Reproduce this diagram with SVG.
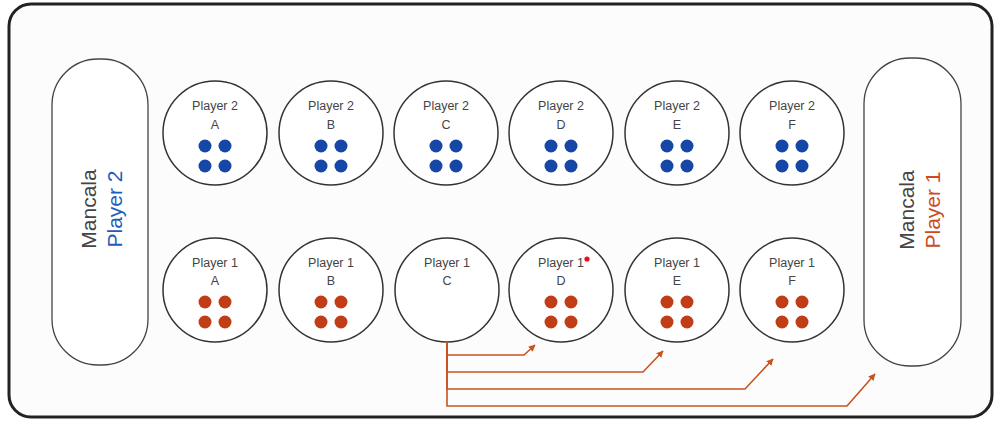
<svg xmlns="http://www.w3.org/2000/svg" width="995" height="423" viewBox="0 0 995 423">
<defs>
<style>
.board{fill:#fcfcfc;stroke:#222;stroke-width:3}
.pit{fill:#fff;stroke:#333;stroke-width:1.5}
.store{fill:#fff;stroke:#444;stroke-width:1.3}
.lbl{font-family:"Liberation Sans","DejaVu Sans",sans-serif;font-size:12.5px;fill:#444;text-anchor:middle}
.big{font-family:"Liberation Sans","DejaVu Sans",sans-serif;font-size:21px;text-anchor:middle}
.b{fill:#1747a6}
.r{fill:#c03d17}
.con{fill:none;stroke:#c8531f;stroke-width:1.6}
</style>
<marker id="ah" viewBox="0 0 10 10" refX="9" refY="5" markerWidth="7" markerHeight="7" orient="auto" markerUnits="userSpaceOnUse">
<path d="M0,0 L10,5 L0,10 z" fill="#c8531f"/>
</marker>
</defs>
<rect x="0" y="0" width="995" height="423" fill="#fff"/>
<rect class="board" x="9" y="4" width="983" height="413" rx="22"/>

<g id="mancala-p2">
<rect class="store" x="52" y="59" width="96" height="306" rx="46"/>
<text class="big" fill="#444" transform="translate(96,209) rotate(-90)">Mancala</text>
<text class="big" fill="#1f5bb8" transform="translate(122,209) rotate(-90)">Player 2</text>
</g>
<g id="mancala-p1">
<rect class="store" x="864" y="58" width="97" height="308" rx="46"/>
<text class="big" fill="#444" transform="translate(914,210) rotate(-90)">Mancala</text>
<text class="big" fill="#cc4a1e" transform="translate(940,210) rotate(-90)">Player 1</text>
</g>

<g id="p2-A"><circle class="pit" cx="215" cy="133" r="52"/><text class="lbl" x="215" y="110">Player 2</text><text class="lbl" x="215" y="129">A</text>
<circle class="b" cx="205" cy="146" r="6.5"/><circle class="b" cx="225" cy="146" r="6.5"/><circle class="b" cx="205" cy="166" r="6.5"/><circle class="b" cx="225" cy="166" r="6.5"/></g>
<g id="p2-B"><circle class="pit" cx="331" cy="133" r="52"/><text class="lbl" x="331" y="110">Player 2</text><text class="lbl" x="331" y="129">B</text>
<circle class="b" cx="321" cy="146" r="6.5"/><circle class="b" cx="341" cy="146" r="6.5"/><circle class="b" cx="321" cy="166" r="6.5"/><circle class="b" cx="341" cy="166" r="6.5"/></g>
<g id="p2-C"><circle class="pit" cx="446" cy="133" r="52"/><text class="lbl" x="446" y="110">Player 2</text><text class="lbl" x="446" y="129">C</text>
<circle class="b" cx="436" cy="146" r="6.5"/><circle class="b" cx="456" cy="146" r="6.5"/><circle class="b" cx="436" cy="166" r="6.5"/><circle class="b" cx="456" cy="166" r="6.5"/></g>
<g id="p2-D"><circle class="pit" cx="561" cy="133" r="52"/><text class="lbl" x="561" y="110">Player 2</text><text class="lbl" x="561" y="129">D</text>
<circle class="b" cx="551" cy="146" r="6.5"/><circle class="b" cx="571" cy="146" r="6.5"/><circle class="b" cx="551" cy="166" r="6.5"/><circle class="b" cx="571" cy="166" r="6.5"/></g>
<g id="p2-E"><circle class="pit" cx="677" cy="133" r="52"/><text class="lbl" x="677" y="110">Player 2</text><text class="lbl" x="677" y="129">E</text>
<circle class="b" cx="667" cy="146" r="6.5"/><circle class="b" cx="687" cy="146" r="6.5"/><circle class="b" cx="667" cy="166" r="6.5"/><circle class="b" cx="687" cy="166" r="6.5"/></g>
<g id="p2-F"><circle class="pit" cx="792" cy="133" r="52"/><text class="lbl" x="792" y="110">Player 2</text><text class="lbl" x="792" y="129">F</text>
<circle class="b" cx="782" cy="146" r="6.5"/><circle class="b" cx="802" cy="146" r="6.5"/><circle class="b" cx="782" cy="166" r="6.5"/><circle class="b" cx="802" cy="166" r="6.5"/></g>

<g id="p1-A"><circle class="pit" cx="215" cy="290" r="52"/><text class="lbl" x="215" y="267">Player 1</text><text class="lbl" x="215" y="285">A</text>
<circle class="r" cx="205" cy="302" r="6.5"/><circle class="r" cx="225" cy="302" r="6.5"/><circle class="r" cx="205" cy="322" r="6.5"/><circle class="r" cx="225" cy="322" r="6.5"/></g>
<g id="p1-B"><circle class="pit" cx="331" cy="290" r="52"/><text class="lbl" x="331" y="267">Player 1</text><text class="lbl" x="331" y="285">B</text>
<circle class="r" cx="321" cy="302" r="6.5"/><circle class="r" cx="341" cy="302" r="6.5"/><circle class="r" cx="321" cy="322" r="6.5"/><circle class="r" cx="341" cy="322" r="6.5"/></g>
<g id="p1-C"><circle class="pit" cx="447" cy="290" r="52"/><text class="lbl" x="447" y="267">Player 1</text><text class="lbl" x="447" y="285">C</text></g>
<g id="p1-D"><circle class="pit" cx="561" cy="290" r="52"/><text class="lbl" x="561" y="267">Player 1</text><text class="lbl" x="561" y="285">D</text>
<circle cx="587" cy="259" r="2.6" fill="#e5101a"/>
<circle class="r" cx="551" cy="302" r="6.5"/><circle class="r" cx="571" cy="302" r="6.5"/><circle class="r" cx="551" cy="322" r="6.5"/><circle class="r" cx="571" cy="322" r="6.5"/></g>
<g id="p1-E"><circle class="pit" cx="677" cy="290" r="52"/><text class="lbl" x="677" y="267">Player 1</text><text class="lbl" x="677" y="285">E</text>
<circle class="r" cx="667" cy="302" r="6.5"/><circle class="r" cx="687" cy="302" r="6.5"/><circle class="r" cx="667" cy="322" r="6.5"/><circle class="r" cx="687" cy="322" r="6.5"/></g>
<g id="p1-F"><circle class="pit" cx="792" cy="290" r="52"/><text class="lbl" x="792" y="267">Player 1</text><text class="lbl" x="792" y="285">F</text>
<circle class="r" cx="782" cy="302" r="6.5"/><circle class="r" cx="802" cy="302" r="6.5"/><circle class="r" cx="782" cy="322" r="6.5"/><circle class="r" cx="802" cy="322" r="6.5"/></g>

<g id="connectors">
<path class="con" marker-end="url(#ah)" d="M447,342 V355 H524 L535,345"/>
<path class="con" marker-end="url(#ah)" d="M447,342 V372 H643 L663,351"/>
<path class="con" marker-end="url(#ah)" d="M447,342 V389 H745 L773,359"/>
<path class="con" marker-end="url(#ah)" d="M447,342 V406 H847 L875,374"/>
</g>
</svg>
